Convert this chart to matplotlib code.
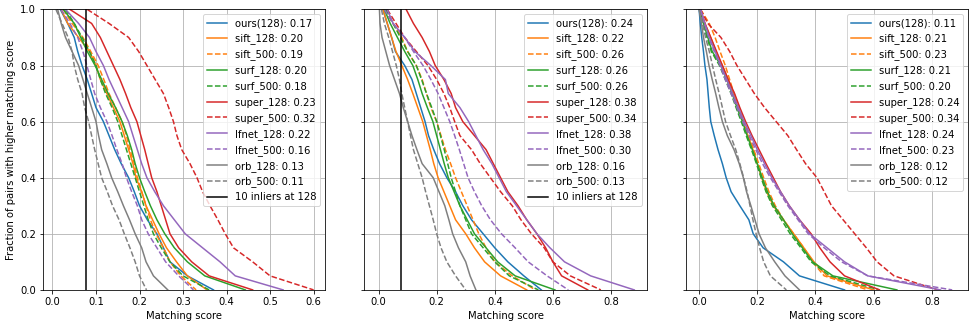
import matplotlib
matplotlib.use("Agg")
import matplotlib.pyplot as plt

# fraction of pairs levels, and the matching score where each curve crosses them
levels = [1.0, 0.95, 0.9, 0.85, 0.8, 0.75, 0.7, 0.65, 0.6, 0.55, 0.5,
          0.45, 0.4, 0.35, 0.3, 0.25, 0.2, 0.15, 0.1, 0.05, 0.0]

names = ["ours(128)", "sift_128", "sift_500", "surf_128", "surf_500",
         "super_128", "super_500", "lfnet_128", "lfnet_500", "orb_128", "orb_500"]
colors = ["C0", "C1", "C1", "C2", "C2", "C3", "C3", "C4", "C4", "C7", "C7"]
styles = ["-", "-", "--", "-", "--", "-", "--", "-", "--", "-", "--"]

# panel 1
means_1 = [0.17, 0.20, 0.19, 0.20, 0.18, 0.23, 0.32, 0.22, 0.16, 0.13, 0.11]
ours_1 = [0.018, 0.035, 0.05, 0.058, 0.068, 0.08, 0.09, 0.1, 0.117, 0.13, 0.143,
          0.158, 0.175, 0.188, 0.2, 0.218, 0.24, 0.255, 0.27, 0.31, 0.37]
sift128_1 = [0.02, 0.035, 0.06, 0.085, 0.1, 0.11, 0.125, 0.14, 0.155, 0.165, 0.175,
             0.185, 0.192, 0.205, 0.215, 0.23, 0.245, 0.262, 0.285, 0.31, 0.355]
sift500_1 = [0.025, 0.045, 0.07, 0.088, 0.105, 0.118, 0.13, 0.145, 0.16, 0.17, 0.178,
             0.188, 0.195, 0.205, 0.215, 0.225, 0.238, 0.255, 0.27, 0.295, 0.33]
surf128_1 = [0.025, 0.05, 0.065, 0.08, 0.098, 0.113, 0.128, 0.145, 0.16, 0.172, 0.182,
             0.19, 0.2, 0.212, 0.225, 0.24, 0.258, 0.28, 0.31, 0.35, 0.443]
surf500_1 = [0.03, 0.05, 0.068, 0.085, 0.1, 0.11, 0.122, 0.137, 0.15, 0.16, 0.17,
             0.18, 0.19, 0.2, 0.21, 0.22, 0.232, 0.25, 0.27, 0.3, 0.36]
super128_1 = [0.04, 0.09, 0.11, 0.125, 0.14, 0.155, 0.168, 0.18, 0.194, 0.203, 0.212,
              0.22, 0.228, 0.24, 0.25, 0.26, 0.27, 0.29, 0.32, 0.36, 0.46]
super500_1 = [0.08, 0.13, 0.175, 0.198, 0.217, 0.236, 0.255, 0.267, 0.278, 0.286, 0.297,
              0.316, 0.332, 0.345, 0.362, 0.38, 0.397, 0.416, 0.46, 0.5, 0.6]
lfnet128_1 = [0.03, 0.06, 0.085, 0.1, 0.117, 0.13, 0.145, 0.16, 0.175, 0.185, 0.195,
              0.205, 0.217, 0.235, 0.255, 0.28, 0.305, 0.345, 0.385, 0.42, 0.53]
lfnet500_1 = [0.02, 0.04, 0.058, 0.07, 0.079, 0.088, 0.097, 0.11, 0.125, 0.137, 0.148,
              0.16, 0.17, 0.182, 0.195, 0.205, 0.22, 0.24, 0.26, 0.29, 0.324]
orb128_1 = [0.012, 0.02, 0.03, 0.045, 0.06, 0.07, 0.08, 0.09, 0.1, 0.106, 0.113,
            0.125, 0.136, 0.15, 0.163, 0.177, 0.19, 0.205, 0.215, 0.232, 0.265]
orb500_1 = [0.008, 0.022, 0.036, 0.045, 0.05, 0.058, 0.068, 0.074, 0.083, 0.09, 0.097,
            0.105, 0.113, 0.126, 0.138, 0.153, 0.165, 0.178, 0.19, 0.2, 0.216]

# panel 2
means_2 = [0.24, 0.22, 0.26, 0.26, 0.26, 0.38, 0.34, 0.38, 0.30, 0.16, 0.13]
ours_2 = [0.015, 0.03, 0.045, 0.058, 0.09, 0.115, 0.13, 0.145, 0.16, 0.172, 0.19,
          0.21, 0.235, 0.265, 0.29, 0.32, 0.36, 0.4, 0.445, 0.5, 0.56]
sift128_2 = [0.015, 0.03, 0.045, 0.06, 0.08, 0.1, 0.118, 0.135, 0.152, 0.165, 0.178,
             0.19, 0.205, 0.225, 0.245, 0.265, 0.3, 0.33, 0.365, 0.42, 0.51]
sift500_2 = [0.02, 0.05, 0.08, 0.1, 0.13, 0.15, 0.165, 0.18, 0.2, 0.215, 0.23,
             0.248, 0.265, 0.285, 0.305, 0.325, 0.345, 0.37, 0.4, 0.46, 0.54]
surf128_2 = [0.02, 0.04, 0.065, 0.09, 0.118, 0.135, 0.15, 0.168, 0.187, 0.2, 0.213,
             0.226, 0.24, 0.26, 0.28, 0.305, 0.33, 0.37, 0.41, 0.47, 0.607]
surf500_2 = [0.025, 0.05, 0.075, 0.1, 0.13, 0.148, 0.165, 0.183, 0.2, 0.213, 0.226,
             0.238, 0.25, 0.265, 0.28, 0.3, 0.32, 0.36, 0.4, 0.45, 0.55]
super128_2 = [0.095, 0.12, 0.15, 0.175, 0.195, 0.225, 0.25, 0.265, 0.29, 0.33, 0.37,
              0.395, 0.42, 0.445, 0.48, 0.51, 0.545, 0.575, 0.6, 0.63, 0.72]
super500_2 = [0.03, 0.06, 0.09, 0.13, 0.17, 0.2, 0.225, 0.245, 0.262, 0.28, 0.32,
              0.35, 0.385, 0.42, 0.46, 0.49, 0.526, 0.57, 0.6, 0.66, 0.765]
lfnet128_2 = [0.03, 0.05, 0.09, 0.125, 0.18, 0.23, 0.24, 0.28, 0.31, 0.335, 0.36,
              0.39, 0.415, 0.44, 0.475, 0.51, 0.545, 0.59, 0.64, 0.73, 0.88]
lfnet500_2 = [0.02, 0.05, 0.09, 0.12, 0.153, 0.18, 0.205, 0.225, 0.245, 0.262, 0.278,
              0.293, 0.308, 0.33, 0.355, 0.385, 0.423, 0.47, 0.515, 0.58, 0.653]
orb128_2 = [0.003, 0.005, 0.012, 0.025, 0.038, 0.055, 0.072, 0.085, 0.1, 0.115, 0.132,
            0.15, 0.188, 0.208, 0.228, 0.242, 0.255, 0.275, 0.3, 0.315, 0.335]
orb500_2 = [0.01, 0.02, 0.035, 0.048, 0.061, 0.072, 0.08, 0.09, 0.1, 0.11, 0.12,
            0.135, 0.15, 0.162, 0.175, 0.188, 0.2, 0.215, 0.235, 0.265, 0.3]

# panel 3
means_3 = [0.11, 0.21, 0.23, 0.21, 0.20, 0.24, 0.34, 0.24, 0.23, 0.12, 0.12]
ours_3 = [0.0, 0.004, 0.009, 0.015, 0.02, 0.027, 0.031, 0.035, 0.04, 0.052, 0.065,
          0.08, 0.093, 0.11, 0.14, 0.171, 0.186, 0.22, 0.29, 0.345, 0.5]
sift128_3 = [0.003, 0.02, 0.04, 0.058, 0.08, 0.1, 0.118, 0.135, 0.152, 0.168, 0.185,
             0.2, 0.215, 0.232, 0.255, 0.29, 0.325, 0.36, 0.395, 0.44, 0.6]
sift500_3 = [0.005, 0.035, 0.055, 0.072, 0.09, 0.105, 0.12, 0.138, 0.155, 0.172, 0.188,
             0.205, 0.222, 0.24, 0.262, 0.29, 0.325, 0.36, 0.39, 0.43, 0.58]
surf128_3 = [0.003, 0.015, 0.03, 0.045, 0.075, 0.095, 0.114, 0.13, 0.149, 0.165, 0.183,
             0.2, 0.217, 0.235, 0.258, 0.29, 0.32, 0.355, 0.39, 0.46, 0.68]
surf500_3 = [0.003, 0.012, 0.027, 0.042, 0.07, 0.09, 0.11, 0.127, 0.145, 0.162, 0.18,
             0.197, 0.213, 0.23, 0.252, 0.283, 0.313, 0.35, 0.385, 0.45, 0.62]
super128_3 = [0.005, 0.02, 0.04, 0.06, 0.08, 0.1, 0.122, 0.14, 0.16, 0.182, 0.206,
              0.23, 0.255, 0.28, 0.31, 0.345, 0.385, 0.415, 0.45, 0.5, 0.62]
super500_3 = [0.005, 0.03, 0.075, 0.105, 0.13, 0.16, 0.19, 0.225, 0.265, 0.305, 0.335,
              0.366, 0.405, 0.43, 0.455, 0.495, 0.535, 0.575, 0.612, 0.67, 0.82]
lfnet128_3 = [0.005, 0.02, 0.035, 0.055, 0.075, 0.095, 0.115, 0.135, 0.155, 0.178, 0.2,
              0.225, 0.25, 0.28, 0.31, 0.345, 0.38, 0.44, 0.5, 0.58, 0.83]
lfnet500_3 = [0.005, 0.018, 0.033, 0.052, 0.072, 0.09, 0.11, 0.13, 0.15, 0.172, 0.195,
              0.218, 0.245, 0.275, 0.305, 0.34, 0.375, 0.43, 0.49, 0.58, 0.87]
orb128_3 = [0.0, 0.008, 0.015, 0.025, 0.034, 0.045, 0.057, 0.068, 0.08, 0.097, 0.12,
            0.138, 0.152, 0.163, 0.178, 0.192, 0.206, 0.228, 0.26, 0.295, 0.345]
orb500_3 = [0.0, 0.012, 0.022, 0.035, 0.046, 0.057, 0.069, 0.08, 0.091, 0.108, 0.126,
            0.14, 0.153, 0.165, 0.175, 0.185, 0.196, 0.208, 0.222, 0.245, 0.3]

inlier_thresh = 10 / 128

panels = [
    ([ours_1, sift128_1, sift500_1, surf128_1, surf500_1, super128_1, super500_1,
      lfnet128_1, lfnet500_1, orb128_1, orb500_1], means_1, True,
     (-0.022, 0.627), [0.0, 0.1, 0.2, 0.3, 0.4, 0.5, 0.6]),
    ([ours_2, sift128_2, sift500_2, surf128_2, surf500_2, super128_2, super500_2,
      lfnet128_2, lfnet500_2, orb128_2, orb500_2], means_2, True,
     (-0.049, 0.923), [0.0, 0.2, 0.4, 0.6, 0.8]),
    ([ours_3, sift128_3, sift500_3, surf128_3, surf500_3, super128_3, super500_3,
      lfnet128_3, lfnet500_3, orb128_3, orb500_3], means_3, False,
     (-0.046, 0.925), [0.0, 0.2, 0.4, 0.6, 0.8]),
]

fig, axes = plt.subplots(1, 3, figsize=(975 / 72, 325 / 72), dpi=72, sharey=True)
fig.subplots_adjust(left=0.044, right=0.993, bottom=0.108, top=0.971, wspace=0.138)

for ax, (curves, means, show_thresh, xlim, xticks) in zip(axes, panels):
    for xs, name, c, ls, m in zip(curves, names, colors, styles, means):
        ax.plot(xs, levels, color=c, linestyle=ls, label="%s: %.2f" % (name, m))
    if show_thresh:
        ax.axvline(inlier_thresh, color="k", label="10 inliers at 128")
    ax.set_xlim(*xlim)
    ax.set_ylim(0, 1)
    ax.set_xticks(xticks)
    ax.grid(True)
    ax.set_xlabel("Matching score")
    ax.legend(loc="upper right")

axes[0].set_ylabel("Fraction of pairs with higher matching score")

plt.savefig("out.png")
